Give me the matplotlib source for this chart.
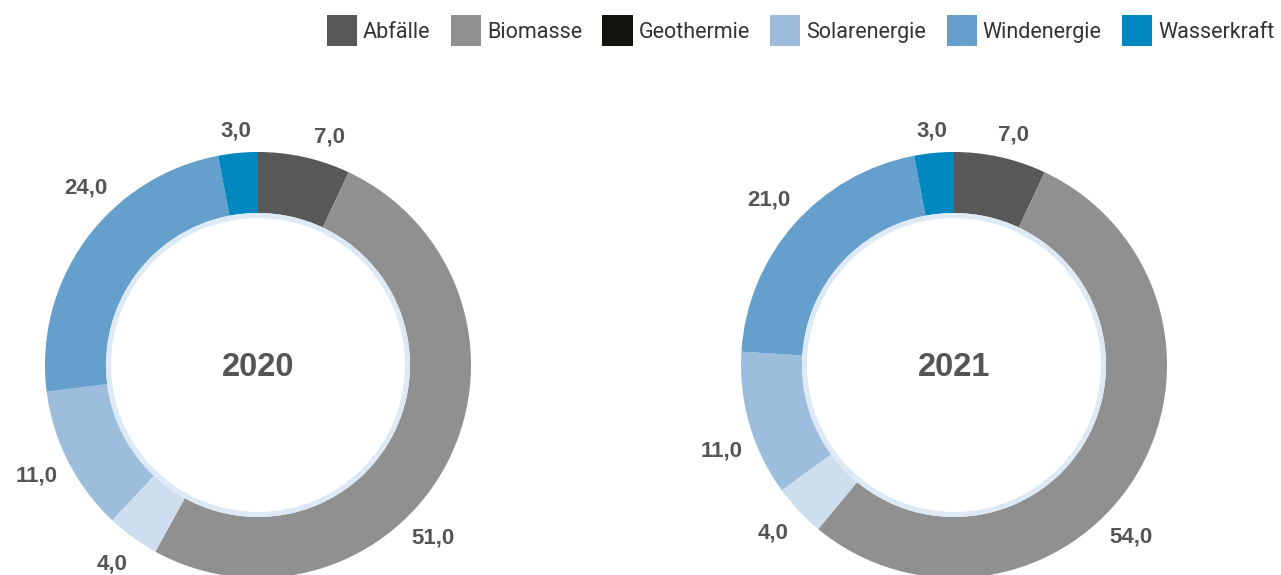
import numpy as np
import matplotlib.pyplot as plt
from matplotlib.patches import Patch

# data, clockwise from the top
years = ['2020', '2021']
shares_2020 = [7.0, 51.0, 4.0, 11.0, 24.0, 3.0]
shares_2021 = [7.0, 54.0, 4.0, 11.0, 21.0, 3.0]
seg_colors = ['#575858', '#8f908f', '#cddeef', '#9dbddc', '#659fcc', '#0087c0']

legend_labels = ['Abfälle', 'Biomasse', 'Geothermie', 'Solarenergie', 'Windenergie', 'Wasserkraft']
legend_colors = ['#575858', '#8f908f', '#12130f', '#9dbddc', '#659fcc', '#0087c0']

W, H = 1281, 575
fig = plt.figure(figsize=(W / 100, H / 100), dpi=100)
ax = fig.add_axes([0, 0, 1, 1])
ax.set_xlim(0, W)
ax.set_ylim(0, H)
ax.set_aspect('equal')
ax.axis('off')

R_OUT, RING, R_LAB = 213, 61, 248
centers = [(258, H - 365), (954, H - 365)]
# small angle nudges (deg) for labels that the original tool pushed around
nudges = {('2020', 0): -5, ('2020', 1): -18, ('2020', 4): -9.5,
          ('2021', 0): -2, ('2021', 1): -12, ('2021', 3): 4.5}

label_color = '#555555'
for year, vals, c in zip(years, [shares_2020, shares_2021], centers):
    ax.pie(vals, colors=seg_colors, startangle=90, counterclock=False,
           center=c, radius=R_OUT, wedgeprops=dict(width=RING, linewidth=0))
    # thin pale ring on the inner edge
    ax.pie([1], colors=['#dde9f5'], center=c, radius=R_OUT - RING,
           wedgeprops=dict(width=5, linewidth=0))
    ax.text(c[0], c[1] - 2, year, ha='center', va='center', fontsize=23.5,
            fontweight='bold', color=label_color, family='Liberation Sans')
    total = sum(vals)
    cum = 0
    for i, v in enumerate(vals):
        mid = 90 - (cum + v / 2) / total * 360 + nudges.get((year, i), 0)
        cum += v
        a = np.deg2rad(mid)
        r = R_LAB - 15 * max(0, np.sin(a)) ** 6
        ax.text(c[0] + r * np.cos(a), c[1] + r * np.sin(a) + 2,
                f'{v:.1f}'.replace('.', ','), ha='center', va='center',
                fontsize=16, fontweight='bold', color=label_color,
                family='Liberation Sans')
ax.set_xlim(0, W)
ax.set_ylim(0, H)

handles = [Patch(facecolor=col, edgecolor='none') for col in legend_colors]
fig.legend(handles, legend_labels, loc='upper right',
           bbox_to_anchor=(1.0, 1.0 - 9 / H),
           ncol=6, frameon=False, prop={'family': 'Roboto', 'size': 15.5},
           handlelength=1.4, handleheight=1.8, handletextpad=0.28,
           columnspacing=0.95, borderpad=0.2, borderaxespad=0.1,
           labelcolor='#333333')

fig.savefig('out.png', dpi=100, facecolor='white')
